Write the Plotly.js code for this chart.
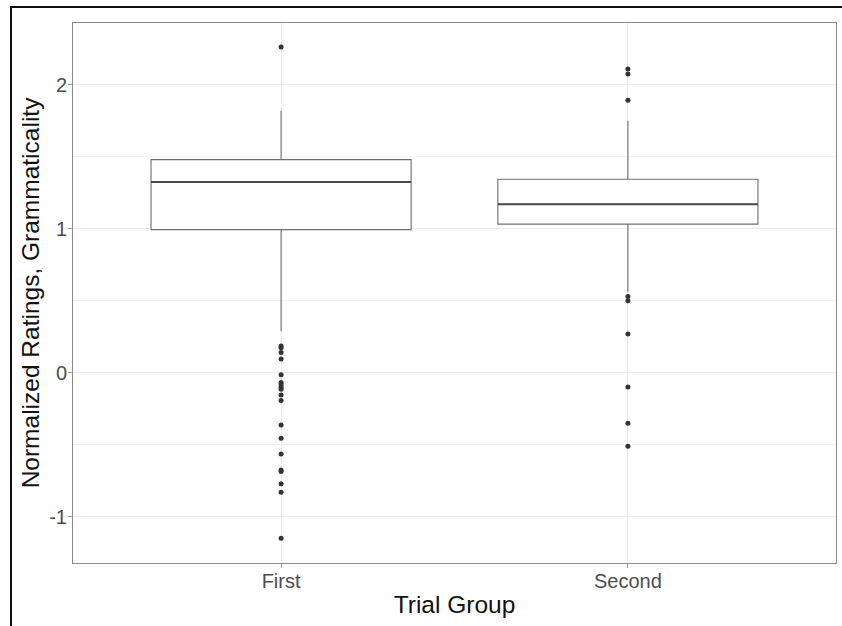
<!DOCTYPE html>
<html>
<head>
<meta charset="utf-8">
<script src="https://cdn.plot.ly/plotly-3.0.1.min.js"></script>
<style>
  html, body { margin: 0; padding: 0; background: #fff; }
  #wrap { position: relative; width: 842px; height: 626px; }
  #chart { width: 842px; height: 626px; }
  #frame { position: absolute; left: 10px; top: 6px; right: -5px; bottom: -5px;
           border-left: 2px solid #111; border-top: 2px solid #111; pointer-events: none; }
</style>
</head>
<body>
<div id="wrap">
  <div id="chart"></div>
  <div id="frame"></div>
</div>
<script>
// Chart data
const categories = ['First', 'Second'];
const q1Values = [0.995, 1.033];
const medianValues = [1.326, 1.171];
const q3Values = [1.481, 1.345];
const lowerWhisker = [0.29, 0.565];
const upperWhisker = [1.82, 1.752];
const outliersFirst = [2.264, 0.1875, 0.174, 0.141, 0.097, -0.012, -0.067, -0.083, -0.10, -0.113,
                       -0.153, -0.192, -0.361, -0.454, -0.5625, -0.674, -0.685, -0.769, -0.829, -1.148];
const outliersSecond = [2.111, 2.076, 1.894, 0.53, 0.502, 0.271, -0.097, -0.35, -0.509];
const yTickVals = [-1, 0, 1, 2];
const yTickText = ['-1', '0', '1', '2'];

const boxTrace = {
  type: 'box',
  x: categories,
  q1: q1Values,
  median: medianValues,
  q3: q3Values,
  lowerfence: lowerWhisker,
  upperfence: upperWhisker,
  width: 0.75,
  whiskerwidth: 0,
  boxpoints: false,
  fillcolor: 'white',
  line: { color: '#6e6e6e', width: 1.1 },
  hoverinfo: 'skip',
  showlegend: false
};

const medianTrace = {
  type: 'box',
  x: categories,
  q1: medianValues,
  median: medianValues,
  q3: medianValues,
  lowerfence: medianValues,
  upperfence: medianValues,
  width: 0.75,
  whiskerwidth: 0,
  boxpoints: false,
  fillcolor: 'rgba(0,0,0,0)',
  line: { color: '#4a4a4a', width: 2 },
  hoverinfo: 'skip',
  showlegend: false
};

const outFirst = {
  type: 'scatter', mode: 'markers',
  x: outliersFirst.map(() => categories[0]),
  y: outliersFirst,
  marker: { color: '#333333', size: 5 },
  hoverinfo: 'skip', showlegend: false
};
const outSecond = {
  type: 'scatter', mode: 'markers',
  x: outliersSecond.map(() => categories[1]),
  y: outliersSecond,
  marker: { color: '#333333', size: 5 },
  hoverinfo: 'skip', showlegend: false
};

const layout = {
  width: 842, height: 626,
  margin: { l: 73, r: 6, t: 23, b: 63 },
  paper_bgcolor: 'white',
  plot_bgcolor: 'white',
  font: { family: 'Liberation Sans, Arial, sans-serif', color: '#4d4d4d' },
  boxmode: 'overlay',
  xaxis: {
    type: 'category',
    categoryorder: 'array',
    categoryarray: categories,
    range: [-0.6, 1.6],
    showgrid: true, gridcolor: '#ebebeb', gridwidth: 1,
    zeroline: false,
    showline: true, mirror: true, linecolor: '#8a8a8a', linewidth: 1,
    ticks: 'outside', ticklen: 4, tickcolor: '#9a9a9a', tickwidth: 1,
    ticklabelstandoff: -4,
    tickfont: { size: 20, color: '#4d4d4d' },
    title: { text: 'Trial Group', font: { size: 24.5, color: '#111111' }, standoff: 4 }
  },
  yaxis: {
    range: [-1.32, 2.43],
    tickvals: yTickVals,
    ticktext: yTickText,
    showgrid: true, gridcolor: '#ebebeb', gridwidth: 1,
    minor: { tickvals: [-0.5, 0.5, 1.5], showgrid: true, gridcolor: '#f2f2f2', gridwidth: 1, ticks: '' },
    zeroline: false,
    showline: true, mirror: true, linecolor: '#8a8a8a', linewidth: 1,
    ticks: 'outside', ticklen: 4, tickcolor: '#9a9a9a', tickwidth: 1,
    ticklabelstandoff: -3,
    tickfont: { size: 20, color: '#4d4d4d' },
    title: { text: 'Normalized Ratings, Grammaticality', font: { size: 24.5, color: '#111111' }, standoff: 2 }
  }
};

Plotly.newPlot('chart', [boxTrace, medianTrace, outFirst, outSecond], layout, { displayModeBar: false, staticPlot: true });
</script>
</body>
</html>
